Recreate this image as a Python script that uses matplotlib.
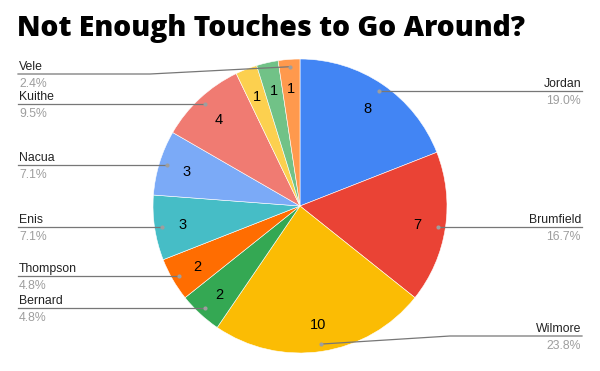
import numpy as np
import matplotlib
matplotlib.use("Agg")
import matplotlib.pyplot as plt

# touches per player, clockwise from 12 o'clock
players = ['Jordan', 'Brumfield', 'Wilmore', 'Bernard', 'Thompson',
           'Enis', 'Nacua', 'Kuithe', None, None, 'Vele']
touches = [8, 7, 10, 2, 2, 3, 3, 4, 1, 1, 1]
colors = ['#4285F4', '#EA4335', '#FBBC04', '#34A853', '#FF6D01',
          '#46BDC6', '#7BAAF7', '#F07B72', '#FCD04F', '#71C287', '#FF994D']
title = "Not Enough Touches to Go Around?"

# label line heights (pixels from top) for the callouts
label_rows = {'Jordan': 90, 'Brumfield': 226, 'Wilmore': 336, 'Bernard': 307,
              'Thompson': 275, 'Enis': 226, 'Nacua': 164, 'Kuithe': 104, 'Vele': 74}

W, H = 600, 371
def Y(y):
    return H - y

fig = plt.figure(figsize=(6, 3.71), dpi=100)
ax = fig.add_axes([0, 0, 1, 1])

cx, cy, R = 300, Y(206), 147
wedges, _ = ax.pie(touches, colors=colors, startangle=90, counterclock=False,
                   center=(cx, cy), radius=R,
                   wedgeprops=dict(edgecolor='white', linewidth=0.4))
ax.set_xlim(0, W)
ax.set_ylim(0, H)
ax.set_aspect('auto')
ax.axis('off')

total = sum(touches)
for w, name, val in zip(wedges, players, touches):
    mid = np.deg2rad((w.theta1 + w.theta2) / 2)
    # value inside slice
    ax.text(cx + 0.81 * R * np.cos(mid), cy + 0.81 * R * np.sin(mid) - 1.5, str(val),
            ha='center', va='center', fontsize=10.5, family='Liberation Sans', color='black')
    if name is None:
        continue
    dx, dy = cx + 0.95 * R * np.cos(mid), cy + 0.95 * R * np.sin(mid)
    ly = Y(label_rows[name])
    if abs(ly - dy) < 2:
        ly = dy   # straight leader
    pct = "{0:.1f}%".format(100 * val / total)
    if np.cos(mid) >= 0:
        bend = max(dx, 450)
        ax.plot([dx, bend, 582], [dy, ly, ly], color='#777777', lw=0.9, zorder=3)
        tx, ha = 581, 'right'
    else:
        bend = min(dx, 150)
        ax.plot([dx, bend, 18], [dy, ly, ly], color='#777777', lw=0.9, zorder=3)
        tx, ha = 19, 'left'
    ax.plot(dx, dy, 'o', ms=3, color='#9e9e9e', mec='none', zorder=4)
    ax.text(tx, ly + 4, name, ha=ha, va='baseline', fontsize=8.8,
            family='Liberation Sans', color='#222222')
    ax.text(tx, ly - 13, pct, ha=ha, va='baseline', fontsize=8.8,
            family='Liberation Sans', color='#9e9e9e')

ax.text(17, Y(36), title, ha='left', va='baseline', fontsize=20.3,
        family='Open Sans', weight='heavy', color='black')

fig.savefig('out.png', dpi=100, facecolor='white')
